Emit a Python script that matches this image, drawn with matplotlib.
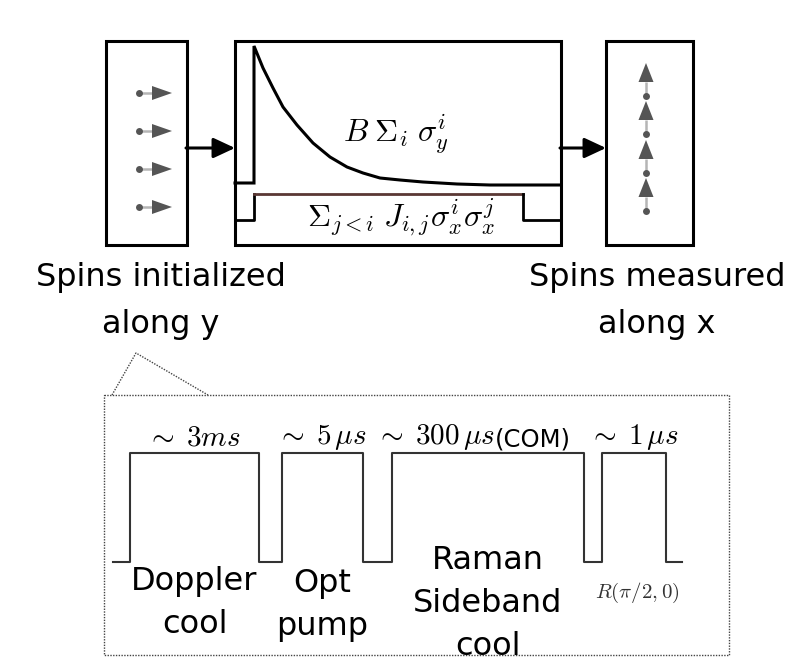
import matplotlib
matplotlib.use('Agg')
import matplotlib.pyplot as plt
from matplotlib.patches import Rectangle

plt.rcParams['mathtext.fontset'] = 'cm'
plt.rcParams['font.family'] = 'DejaVu Sans'

W, H = 794, 665

# spins in the preparation / readout panels (row heights)
init_rows = [93, 131, 169, 207]
meas_rows = [211, 173, 134, 96]

# transverse field ramp B(t): time after switch-on, height above the floor
field_t = [0, 9, 19, 29, 43, 59, 76, 93, 109, 126, 146, 169, 203, 236, 279, 307]
field_amp = [139, 117, 97, 78, 60, 42, 28, 18, 12, 7, 5, 3, 1, 0, 0, 0]

# Ising coupling J: on/off times
coupling_on = 254
coupling_off = 523

# pulse sequence before the quench
pulse_on = [130, 282, 392, 602]
pulse_off = [259, 363, 584, 666]
pulse_durations = [r'$\sim\;3ms$', r'$\sim\;5\,\mu s$', r'$\sim\;300\,\mu s$', r'$\sim\;1\,\mu s$']
pulse_notes = ['', '', '(COM)', '']
pulse_stages = ['Doppler\ncool', 'Opt\npump', 'Raman\nSideband\ncool', r'$R(\pi/2,0)$']


def spin_arrow(ax, x0, y0, dx, dy, head=19, half=7):
    # grey spin: dot, light shaft, dark triangular head
    L = (dx ** 2 + dy ** 2) ** 0.5
    ux, uy = dx / L, dy / L
    tx, ty = x0 + dx, y0 + dy
    bx, by = tx - ux * head, ty - uy * head
    ax.plot([x0, bx], [y0, by], color='#b5b5b5', lw=1.8, solid_capstyle='butt', zorder=2)
    ax.fill([tx, bx - uy * half, bx + uy * half], [ty, by + ux * half, by - ux * half],
            color='#555555', lw=0, zorder=3)
    ax.plot(x0, y0, 'o', color='#555555', ms=5, mec='none', zorder=3)


fig = plt.figure(figsize=(W / 100, H / 100), dpi=100)
ax = fig.add_axes([0, 0, 1, 1])
ax.set_xlim(0, W)
ax.set_ylim(H, 0)
ax.axis('off')

box_lw = 2.2
# three panels
for x0, x1 in [(106, 187), (235, 561), (606, 693)]:
    ax.add_patch(Rectangle((x0, 41), x1 - x0, 204, fill=False, lw=box_lw, ec='k', zorder=4))

for x0, x1 in [(187, 235), (561, 606)]:
    ax.annotate('', xy=(x1, 148), xytext=(x0 - 1, 148),
                arrowprops=dict(arrowstyle='-|>,head_length=0.6,head_width=0.28',
                                lw=box_lw, color='k', shrinkA=0, shrinkB=0, mutation_scale=22))

for y in init_rows:
    spin_arrow(ax, 139, y, 33, 0, head=20, half=7)
for y in meas_rows:
    spin_arrow(ax, 646, y, 0, -33, head=19, half=7.5)

# field ramp
floor_b = 185
xs = [235, coupling_on, coupling_on] + [coupling_on + t for t in field_t]
ys = [183, 183, floor_b - field_amp[0]] + [floor_b - a for a in field_amp]
ax.plot(xs, ys, color='k', lw=2.2, solid_joinstyle='miter', zorder=3)

# coupling
j_lo, j_hi = 220, 194
ax.plot([235, coupling_on, coupling_on], [j_lo, j_lo, j_hi], color='k', lw=2.0, zorder=3)
ax.plot([coupling_on, coupling_off], [j_hi, j_hi], color='#5a3834', lw=2.0, zorder=3)
ax.plot([coupling_off, coupling_off, 561], [j_hi, j_lo, j_lo], color='k', lw=2.0, zorder=3)

ax.text(396, 134, r'$B\;\Sigma_i\;\sigma_y^i$', fontsize=23, ha='center', va='center')
ax.text(401, 218, r'$\Sigma_{j<i}\;J_{i,j}\sigma_x^i\sigma_x^j$', fontsize=23,
        ha='center', va='center')

ax.text(161, 262, 'Spins initialized\nalong y', fontsize=23, ha='center', va='top',
        linespacing=1.65)
ax.text(657, 262, 'Spins measured\nalong x', fontsize=23, ha='center', va='top',
        linespacing=1.65)

# zoom-in on the preparation sequence
dot_kw = dict(color='#444444', lw=1.0, ls=(0, (1, 1)))
ax.add_patch(Rectangle((104, 395), 625, 260, fill=False, ec='#444444', lw=1.0,
                       ls=(0, (1, 1))))
ax.plot([112, 136, 208], [395, 353, 395], **dot_kw)

lo, hi = 562, 453
px, py = [113], [lo]
for on, off in zip(pulse_on, pulse_off):
    px += [on, on, off, off]
    py += [lo, hi, hi, lo]
px.append(682)
py.append(lo)
ax.plot(px, py, color='#333333', lw=1.5)

stage_top = [566, 568, 545, 593]
for on, off, dur, note, stage, top in zip(pulse_on, pulse_off, pulse_durations,
                                          pulse_notes, pulse_stages, stage_top):
    mid = (on + off) / 2
    if note:
        t = ax.text(mid + 7, 437, dur, fontsize=21, ha='right', va='center')
        ax.annotate(note, xy=(1, 0.42), xycoords=t, fontsize=17.5, ha='left', va='center')
    else:
        ax.text(mid - 1, 437, dur, fontsize=21, ha='center', va='center')
    if stage.startswith('$'):
        ax.text(mid + 3, top, stage, fontsize=15, ha='center', va='center', color='#333333')
    else:
        ax.text(mid, top, stage, fontsize=23, ha='center', va='top', linespacing=1.5)

fig.savefig('out.png', dpi=100)
